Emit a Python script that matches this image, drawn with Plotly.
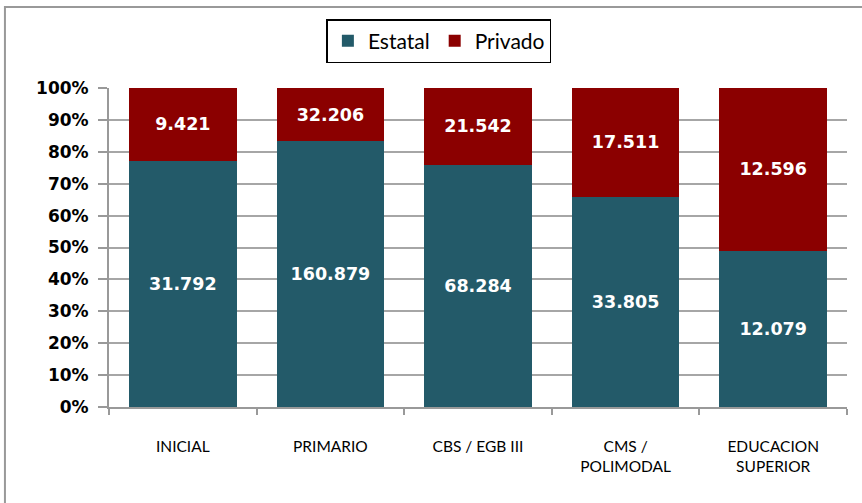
import plotly.graph_objects as go

categories = ["INICIAL", "PRIMARIO", "CBS / EGB III", "CMS /<br>POLIMODAL", "EDUCACION<br>SUPERIOR"]
estatal = [31792, 160879, 68284, 33805, 12079]
privado = [9421, 32206, 21542, 17511, 12596]
y_ticks = [0, 10, 20, 30, 40, 50, 60, 70, 80, 90, 100]
y_tick_labels = [f"{v}%" for v in y_ticks]

def fmt(v):
    return f"{v:,}".replace(",", ".")

col_estatal = "#235A69"
col_privado = "#8B0000"
label_font = dict(family="DejaVu Sans", size=17.5, color="white", weight="bold")

fig = go.Figure()
fig.add_trace(go.Bar(
    name="Estatal", x=categories, y=estatal, marker_color=col_estatal,
    text=[fmt(v) for v in estatal], textposition="inside", insidetextanchor="middle",
    textfont=label_font, marker_line_width=0,
))
fig.add_trace(go.Bar(
    name="Privado", x=categories, y=privado, marker_color=col_privado,
    text=[fmt(v) for v in privado], textposition="inside", insidetextanchor="middle",
    textfont=label_font, marker_line_width=0,
))

fig.update_layout(
    width=862, height=503,
    barmode="stack", barnorm="percent", bargap=0.27,
    margin=dict(l=109, r=15, t=88, b=96, autoexpand=False),
    paper_bgcolor="white", plot_bgcolor="white",
    legend=dict(
        orientation="h", x=0.447, xanchor="center",
        yref="container", y=0.962, yanchor="top",
        bordercolor="black", borderwidth=1.5, bgcolor="white",
        font=dict(family="Lato", size=21, color="black"),
        traceorder="normal",
    ),
    xaxis=dict(
        showline=True, linecolor="#999999", linewidth=2,
        ticks="outside", tickson="boundaries", ticklen=6, tickcolor="#999999", tickwidth=2,
        showgrid=False, automargin=False,
        tickfont=dict(family="Lato", size=15.5, color="black"),
        ticklabelstandoff=24,
    ),
    yaxis=dict(
        range=[0, 100], tickvals=y_ticks, ticktext=y_tick_labels,
        showline=True, linecolor="#999999", linewidth=2,
        ticks="outside", ticklen=9, tickcolor="#999999", tickwidth=2,
        showgrid=True, gridcolor="#A6A6A6", gridwidth=1.5,
        tickfont=dict(family="DejaVu Sans", size=17, color="black", weight="bold"),
        zeroline=False, automargin=False, ticklabelstandoff=6,
    ),
    shapes=[dict(
        type="rect", xref="paper", yref="paper",
        x0=-0.141, x1=1.2, y0=-0.6, y1=1.254,
        line=dict(color="#999999", width=2), fillcolor="rgba(0,0,0,0)", layer="below",
    )],
)

fig.write_html("out.html", config={"displayModeBar": False},
               post_script="document.body.style.margin='0px';")
